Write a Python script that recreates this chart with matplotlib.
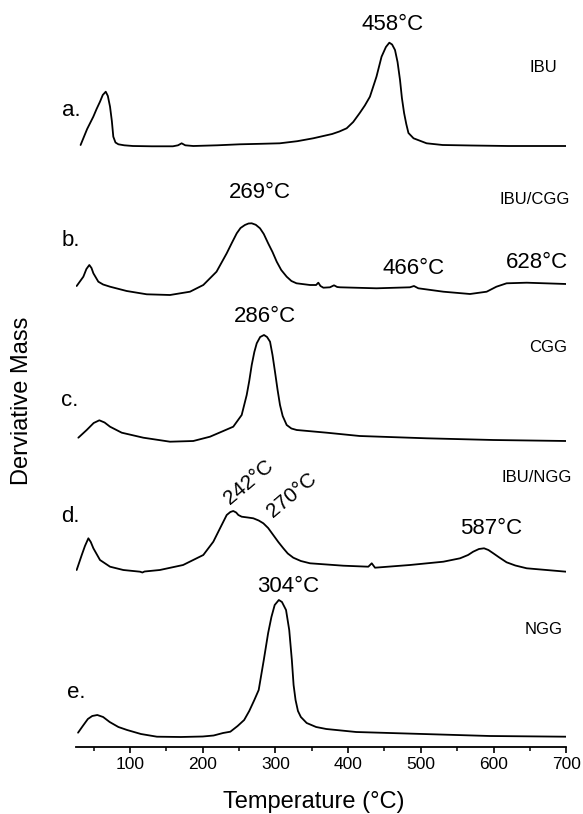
import matplotlib
matplotlib.use("Agg")
import matplotlib.pyplot as plt

plt.rcParams['font.family'] = ['Liberation Sans', 'DejaVu Sans']

# ---- data (temperature in °C, derivative mass in arbitrary units) ----
temp_a = [32, 41, 49.5, 54, 58.7, 62.5, 66.6, 69.5, 72.5, 75, 77, 80, 84, 92, 104, 130, 159, 166, 171, 176,
          187, 220, 251, 280, 306, 330, 352, 378, 388, 398, 407, 416, 423, 430, 439, 446, 452, 456.7, 460.5, 464.5,
          468, 471.4, 474, 477, 480, 483, 490, 508, 530, 570, 620, 700]
dm_a = [1, 17, 29.3, 37, 44.3, 51, 54.3, 50, 39.3, 25, 9.3, 3.5, 1.7, 0.7, 0, -0.3, -0.3, 0.7, 2.7, 0.7,
        0, 0.7, 1.7, 2.2, 2.7, 4.8, 7.7, 12, 14.5, 17.7, 24, 33, 40.5, 49.3, 69.3, 89.3, 99, 103.3, 101.5, 96,
        84, 66, 48, 33, 22, 13, 7.7, 2.7, 1, 0.5, 0, 0]

temp_b = [26.6, 35.8, 40, 44, 47, 49.6, 56.4, 63, 72.5, 95.4, 123, 155, 182.5, 200.8, 219, 233, 240, 246.8, 252, 258,
          263, 267.4, 273, 278.8, 284, 290, 296, 301.8, 308, 315.5, 322, 329, 347.6, 356, 359, 362, 366, 375, 380.6, 385,
          388.9, 439, 485, 490.6, 496.6, 531, 567.7, 590.6, 604, 618, 645.7, 700]
dm_b = [1, 10.3, 18, 22, 19, 13.7, 5.3, 2.5, 0.3, -4, -7.3, -8, -4.7, 2, 15.3, 33.7, 44, 53.7, 59, 62,
        63.5, 63.7, 62.2, 58.7, 53, 43.7, 35, 25.3, 17, 10.3, 6, 3.7, 2, 2, 4.3, 1, -0.7, -0.3, 1.7, 0,
        -0.3, -1.3, -0.3, 1, -1.3, -4.7, -7, -4.7, 0.3, 3.7, 4.3, 3]

temp_c = [28.9, 40.4, 50, 57.8, 65, 72.5, 88.6, 118.3, 155, 187, 210, 228.3, 242, 253.6, 260.5, 264, 267.4, 271, 274.3, 279,
          284.3, 288.5, 292.6, 296, 299.4, 303, 306.3, 310, 315.5, 322, 329.3, 370.6, 416, 508, 599.7, 700]
dm_c = [3.3, 11, 18, 20.7, 18.5, 14.3, 8.3, 3.3, -0.7, 0, 4.3, 10, 14.3, 26, 46, 60, 76, 89, 97.7, 104,
        106, 104, 99.3, 86, 69.3, 51, 36, 25, 16, 12.5, 11, 8.3, 5, 2.7, 1, 0]

temp_d = [26.6, 33.6, 38, 42.7, 46, 49.6, 58.7, 72.5, 90.8, 113.8, 117, 120, 141, 173, 200.8, 214.6, 223.8, 233, 238, 242,
          246, 249, 253.6, 262, 269.6, 277, 283.4, 290, 297, 304, 310.9, 317, 324.6, 335, 347.6, 393.4, 427.8, 432.5, 437, 485,
          531, 554, 565, 572, 580, 587, 593, 599.7, 608, 618, 630, 645.7, 700]
dm_d = [2, 17, 26, 33.7, 30, 23.7, 12, 5.3, 2, 0.3, -0.5, 0.5, 2, 7, 17, 30.3, 43.7, 57, 60, 61,
        59.5, 57, 55.3, 54.5, 53.7, 51.5, 48.7, 44, 37, 30, 23.7, 18.5, 14.3, 11, 8.7, 6.3, 5.3, 8.7, 4.3, 7,
        10.3, 13.7, 17, 20.3, 23, 23.7, 22, 18.7, 14.5, 9.7, 6.5, 3.7, 0.3]

temp_e = [28.5, 35, 42, 48, 55, 63, 72, 84, 96, 115, 137, 170, 200, 215, 228, 238, 248, 257, 264, 271,
          277, 284, 290, 294.5, 299, 304.7, 309, 314.6, 319, 322.6, 325, 327.7, 331, 335, 343, 356, 370, 411, 503, 595,
          700]
dm_e = [4.3, 11, 18, 21, 22, 20, 15, 10, 7, 3, 0.3, 0, 0.5, 1.5, 4, 5.3, 11, 17, 26, 37,
        47, 77, 104, 120, 132, 137, 135, 127, 107, 77, 52, 37, 26, 20, 14, 10, 8, 5, 3, 1,
        0.3]

curves = [(temp_a, dm_a), (temp_b, dm_b), (temp_c, dm_c), (temp_d, dm_d), (temp_e, dm_e)]
offsets = [601, 460, 306, 175, 10]
letters = ['a.', 'b.', 'c.', 'd.', 'e.']
samples = ['IBU', 'IBU/CGG', 'CGG', 'IBU/NGG', 'NGG']
peak_temps = ['458', '269', '466', '628', '286', '242', '270', '587', '304']
xticks = [100, 200, 300, 400, 500, 600, 700]

# ---- figure ----
W, H = 583, 814
fig = plt.figure(figsize=(W / 100, H / 100), dpi=100)
ax = fig.add_axes([75.5 / W, 67 / H, 490.7 / W, 747 / H])
ax.set_xlim(25, 700)
ax.set_ylim(0, 747)

for (t, d), off in zip(curves, offsets):
    ax.plot(t, [v + off for v in d], color='black', lw=1.3,
            solid_joinstyle='round', solid_capstyle='round')

for s in ['top', 'left', 'right']:
    ax.spines[s].set_visible(False)
ax.spines['bottom'].set_linewidth(1.3)
ax.set_yticks([])
ax.set_xticks(xticks)
ax.set_xticks(list(range(50, 700, 100)), minor=True)
ax.tick_params(axis='x', which='major', direction='out', length=4.5, width=1.2,
               labelsize=12.5, pad=3)
ax.tick_params(axis='x', which='minor', direction='out', length=3, width=1.1)

fs_peak = 16
fs_rot = 15
fs_name = 12
fs_let = 16

letter_pos = [(18.8, 637), (18.6, 507), (17.5, 346), (18.6, 230), (26.6, 55)]
for (x, y), s in zip(letter_pos, letters):
    ax.text(x, y, s, fontsize=fs_let, ha='center', va='center', clip_on=False)

# sample names, right-aligned
name_pos = [(688.2, 679), (705.2, 547), (700.7, 399), (707.6, 270), (695.6, 117)]
for (x, y), s in zip(name_pos, samples):
    ax.text(x, y, s, fontsize=fs_name, ha='right', va='center', clip_on=False)

peak_pos = [(460.8, 723, 0), (278.8, 554, 0), (489.7, 479, 0), (660.2, 485, 0),
            (285.7, 430, 0), (263.7, 265, 40), (322.4, 252, 40), (596.1, 219, 0),
            (317.3, 160, 0)]
for (x, y, rot), s in zip(peak_pos, peak_temps):
    ax.text(x, y, s + '°C', fontsize=fs_rot if rot else fs_peak, ha='center', va='center',
            rotation=rot, rotation_mode='anchor', clip_on=False)

fig.text(313.5 / W, 1 - 802 / H, 'Temperature (°C)', fontsize=17, ha='center', va='center')
fig.text(21.7 / W, 1 - 400.7 / H, 'Derviative Mass', fontsize=17, ha='center', va='center', rotation=90)

fig.savefig('out.png', dpi=100)
